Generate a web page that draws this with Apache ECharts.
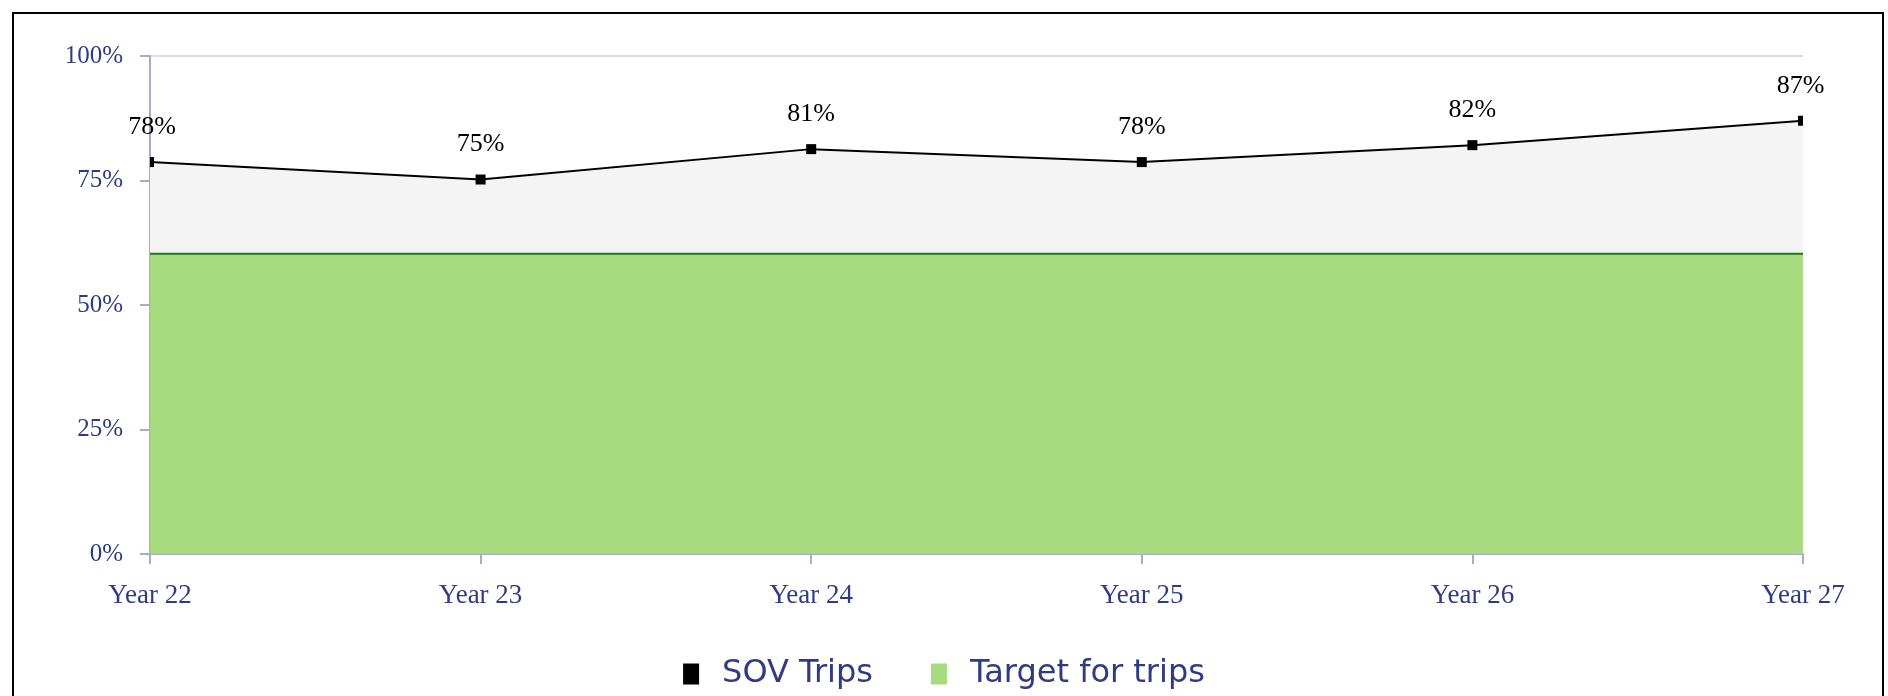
<!DOCTYPE html>
<html>
<head>
<meta charset="utf-8">
<script src="https://cdn.jsdelivr.net/npm/echarts@6/dist/echarts.min.js"></script>
<style>
    html, body {
        margin: 0;
        padding: 0;
        background: #fff;
        overflow: hidden;
    }

    #frame {
        position: absolute;
        left: 12px;
        top: 12px;
        width: 1872px;
        height: 720px;
        border: 2px solid #000;
        box-sizing: border-box;
    }

    #main {
        position: absolute;
        left: 0;
        top: 0;
        width: 1888px;
        height: 696px;
    }
</style>
</head>
<body>
<div id="frame"></div>
<div id="main"></div>
<script>
    // data
    var years = ['Year 22', 'Year 23', 'Year 24', 'Year 25', 'Year 26', 'Year 27'];
    var sovTrips = [78.7, 75.2, 81.3, 78.7, 82.1, 87.0];
    var targetTrips = [60.3, 60.3, 60.3, 60.3, 60.3, 60.3];
    var yTicks = [0, 25, 50, 75, 100];

    var textBlue = '#2f3b85';
    var serif = '"Liberation Serif", "DejaVu Serif", serif';

    // end markers are cut in half by the plot edge
    var sovData = sovTrips.map(function (v, i) {
        if (i === 0) {
            return { value: v, symbolSize: [4, 10], symbolOffset: [2, 0] };
        }
        if (i === sovTrips.length - 1) {
            return { value: v, symbolSize: [5, 10], symbolOffset: [-2.5, 0] };
        }
        return v;
    });

    var myChart = echarts.init(document.getElementById('main'));
    myChart.setOption({
        animation: false,
        grid: {
            left: 150,
            right: 85,
            top: 56,
            bottom: 142
        },
        legend: {
            top: 653,
            left: 'center',
            itemWidth: 16,
            itemHeight: 21,
            itemGap: 58,
            icon: 'rect',
            textStyle: {
                color: textBlue,
                fontFamily: '"DejaVu Sans", sans-serif',
                fontSize: 32,
                padding: [0, 0, 0, 18]
            },
            data: [
                { name: 'SOV Trips', itemStyle: { color: '#000' } },
                { name: 'Target for trips', itemStyle: { color: '#a8db80' } }
            ]
        },
        xAxis: {
            type: 'category',
            data: years,
            boundaryGap: false,
            axisLine: {
                lineStyle: { color: '#a9aacd', width: 2 }
            },
            axisTick: {
                length: 10,
                lineStyle: { color: '#a9aacd', width: 2 }
            },
            axisLabel: {
                color: textBlue,
                fontFamily: serif,
                fontSize: 27,
                margin: 28
            },
            splitLine: { show: false }
        },
        yAxis: {
            type: 'value',
            min: yTicks[0],
            max: yTicks[yTicks.length - 1],
            interval: 25,
            axisLine: {
                show: true,
                lineStyle: { color: '#a9aacd', width: 2 }
            },
            axisTick: {
                show: true,
                length: 10,
                lineStyle: { color: '#a9aacd', width: 2 }
            },
            axisLabel: {
                color: textBlue,
                fontFamily: serif,
                fontSize: 25,
                margin: 27,
                formatter: '{value}%'
            },
            splitLine: {
                lineStyle: { color: '#dddddd', width: 2 }
            }
        },
        series: [
            {
                name: 'SOV Trips',
                type: 'line',
                data: sovData,
                symbol: 'rect',
                symbolSize: 10,
                clip: false,
                lineStyle: { color: '#000', width: 2 },
                itemStyle: { color: '#000' },
                areaStyle: { color: '#f4f4f4', opacity: 1 },
                label: {
                    show: true,
                    position: 'top',
                    distance: 17,
                    color: '#000',
                    fontFamily: serif,
                    fontSize: 26,
                    formatter: function (p) {
                        return Math.floor(p.value) + '%';
                    }
                },
                z: 2
            },
            {
                name: 'Target for trips',
                type: 'line',
                data: targetTrips,
                showSymbol: false,
                symbol: 'none',
                lineStyle: { color: '#1a7a1a', width: 2 },
                itemStyle: { color: '#a8db80' },
                areaStyle: { color: '#a8db80', opacity: 1 },
                z: 3
            }
        ]
    });
</script>
</body>
</html>
